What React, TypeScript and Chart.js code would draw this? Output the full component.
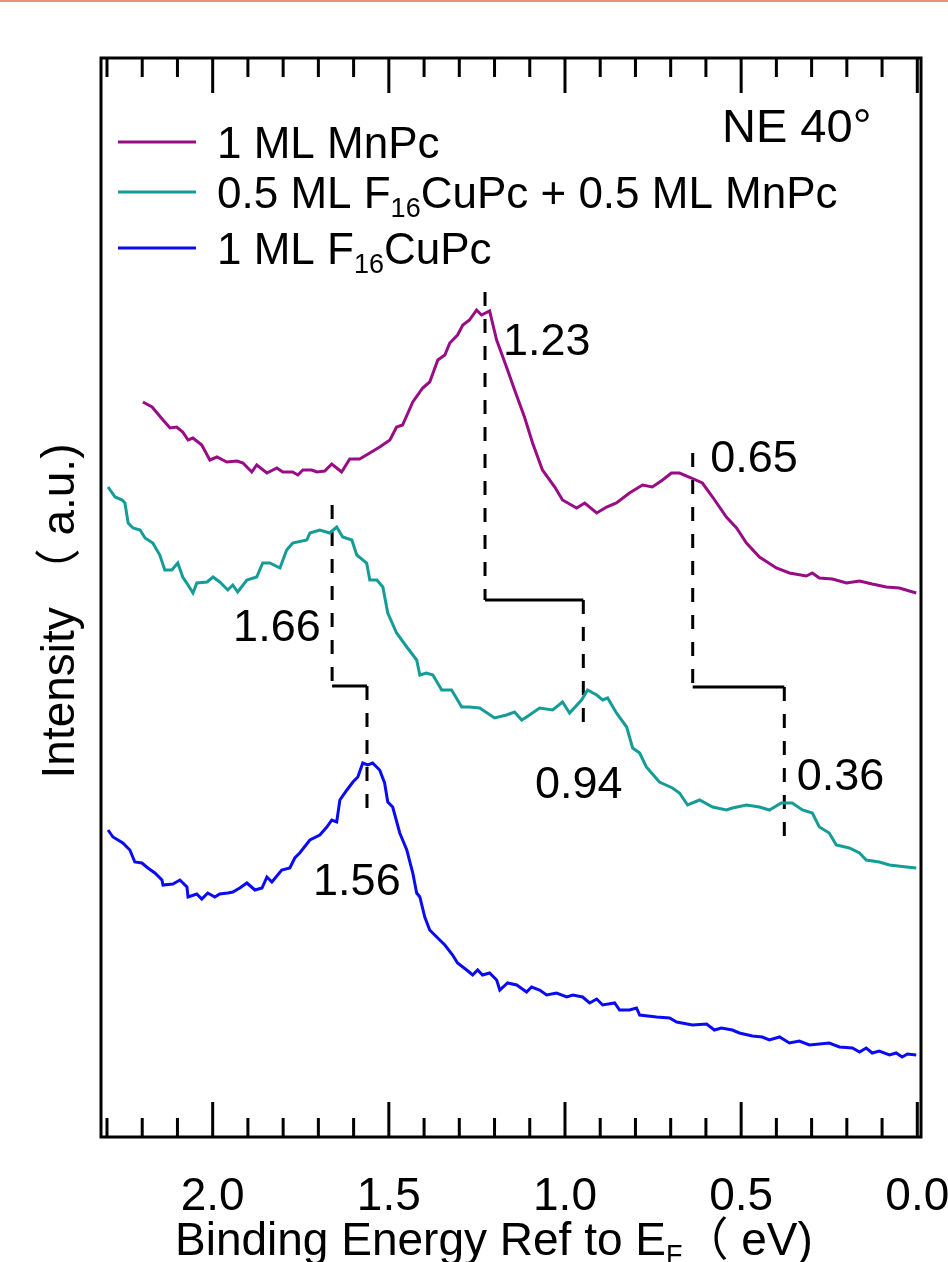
import React, { useEffect, useRef } from "react";
import { Chart, registerables } from "chart.js";

Chart.register(...registerables);

// ---------- data (binding energy in eV, intensity in arbitrary units) ----------
const mnpcEnergy = [2.198,2.172,2.141,2.121,2.102,2.085,2.070,2.056,2.031,2.008,1.988,1.960,1.931,1.914,1.889,1.875,1.846,1.818,1.801,1.773,1.758,1.744,1.719,1.704,1.682,1.662,1.634,1.611,1.583,1.554,1.526,1.497,1.478,1.461,1.432,1.404,1.384,1.361,1.341,1.327,1.305,1.290,1.271,1.251,1.237,1.214,1.194,1.166,1.143,1.115,1.092,1.064,1.029,1.007,0.967,0.944,0.910,0.882,0.854,0.817,0.780,0.752,0.723,0.698,0.675,0.641,0.610,0.581,0.542,0.513,0.485,0.448,0.400,0.363,0.315,0.298,0.278,0.241,0.201,0.164,0.128,0.088,0.051,0.003];
const mnpcIntensity = [735,730,717,709,710,705,697,699,692,677,680,675,676,674,665,672,664,669,665,665,662,667,667,665,666,673,665,678,678,684,690,697,710,712,735,749,755,777,782,794,802,812,817,827,822,826,797,770,747,720,694,667,650,637,629,634,624,630,634,644,652,650,657,664,664,659,654,640,620,609,594,580,569,564,561,564,559,558,554,556,553,550,549,544];

const mixEnergy = [2.297,2.277,2.257,2.249,2.240,2.226,2.206,2.192,2.170,2.150,2.136,2.116,2.099,2.085,2.070,2.056,2.045,2.016,1.999,1.980,1.957,1.943,1.929,1.903,1.875,1.858,1.838,1.809,1.790,1.773,1.733,1.724,1.696,1.668,1.648,1.631,1.605,1.591,1.563,1.554,1.534,1.517,1.503,1.478,1.449,1.421,1.412,1.393,1.375,1.350,1.322,1.293,1.271,1.242,1.200,1.166,1.143,1.123,1.109,1.072,1.035,1.007,0.987,0.953,0.936,0.910,0.893,0.879,0.854,0.825,0.808,0.788,0.769,0.732,0.695,0.675,0.652,0.618,0.581,0.542,0.525,0.485,0.448,0.420,0.386,0.355,0.326,0.298,0.278,0.250,0.230,0.193,0.164,0.145,0.108,0.079,0.031,0.003];
const mixIntensity = [650,640,637,634,614,609,607,599,594,582,567,567,574,560,552,544,554,555,560,555,547,552,545,557,560,574,574,569,587,594,597,604,607,604,610,600,597,582,574,557,557,550,524,504,490,477,462,464,462,447,447,430,430,429,419,422,425,417,420,429,427,435,424,437,447,442,437,439,424,410,389,384,370,355,349,344,332,337,330,327,329,332,330,327,334,334,327,324,310,304,292,289,284,277,275,272,270,269];

const f16Energy = [2.297,2.283,2.255,2.235,2.221,2.201,2.184,2.164,2.144,2.141,2.113,2.093,2.073,2.070,2.045,2.031,2.014,1.994,1.980,1.957,1.943,1.923,1.903,1.880,1.860,1.846,1.832,1.804,1.781,1.767,1.753,1.724,1.696,1.676,1.662,1.648,1.639,1.619,1.602,1.588,1.574,1.560,1.546,1.526,1.512,1.503,1.489,1.469,1.449,1.432,1.421,1.412,1.398,1.384,1.364,1.341,1.319,1.305,1.279,1.262,1.248,1.234,1.214,1.194,1.185,1.163,1.137,1.109,1.095,1.072,1.052,1.024,0.995,0.978,0.950,0.930,0.910,0.893,0.859,0.845,0.817,0.797,0.788,0.740,0.703,0.683,0.638,0.598,0.576,0.556,0.525,0.505,0.468,0.440,0.420,0.391,0.363,0.335,0.306,0.250,0.221,0.184,0.164,0.145,0.128,0.108,0.079,0.060,0.043,0.028,0.003];
const f16Intensity = [307,300,294,287,275,274,269,264,257,252,253,257,250,240,243,238,244,240,243,244,245,249,254,247,249,260,255,267,269,279,284,297,302,310,317,315,337,347,355,360,374,372,374,367,354,335,330,304,287,264,244,240,220,207,200,192,182,174,167,162,167,162,164,157,147,154,152,145,150,147,142,144,140,142,140,134,138,132,134,127,127,129,122,120,119,115,112,113,107,109,107,104,101,100,97,100,94,96,92,94,90,89,85,89,84,86,82,84,80,83,82];

// legend names: alternating normal text / subscript
const legendNames = [
  ["1 ML MnPc"],
  ["0.5 ML F", "16", "CuPc + 0.5 ML MnPc"],
  ["1 ML F", "16", "CuPc"],
];

// x-axis ticks
const minorTickValues = [2.3,2.2,2.1,2.0,1.9,1.8,1.7,1.6,1.5,1.4,1.3,1.2,1.1,1.0,0.9,0.8,0.7,0.6,0.5,0.4,0.3,0.2,0.1,0.0];
const majorTickValues = [2.0,1.5,1.0,0.5,0.0];
const majorTickLabels = ["2.0","1.5","1.0","0.5","0.0"];

// peak-shift brackets (energies / intensities where the guide lines run)
const bracketFrom = [1.227, 0.6375, 1.661];
const bracketTo = [0.948, 0.3775, 1.562];
const bracketTop = [845, 684, 632];
const bracketJoin = [537, 450, 451];
const bracketBottom = [402, 300, 327];

// peak labels
const peakLabels = ["1.23", "0.65", "1.66", "0.94", "0.36", "1.56"];
const peakLabelEnergy = [1.176, 0.588, 1.942, 1.085, 0.342, 1.715];
const peakLabelIntensity = [782, 665, 496, 339, 347, 242];

const FONT = '"Liberation Sans", Arial, "Noto Sans CJK JP", sans-serif';
const COLORS = ["#980C85", "#159C96", "#0A0AF5"];

const decorPlugin = {
  id: "decor",
  beforeDraw(chart: any) {
    const ctx = chart.ctx;
    ctx.save();
    ctx.fillStyle = "#ffffff";
    ctx.fillRect(0, 0, chart.width, chart.height);
    ctx.fillStyle = "#E8927C";
    ctx.fillRect(0, 0, chart.width, 2);
    ctx.restore();
  },
  afterDatasetsDraw(chart: any) {
    const { ctx, chartArea, scales } = chart;
    const xs = scales.x;
    const ys = scales.y;
    const { left, right, top, bottom } = chartArea;
    ctx.save();
    ctx.strokeStyle = "#000";
    ctx.fillStyle = "#000";
    ctx.lineWidth = 3;
    ctx.strokeRect(left, top, right - left, bottom - top);

    // ticks (inward, top and bottom)
    ctx.lineWidth = 3;
    minorTickValues.forEach((v) => {
      const px = xs.getPixelForValue(v);
      const major = majorTickValues.some((m) => Math.abs(m - v) < 1e-6);
      const len = major ? 35 : 19;
      ctx.beginPath();
      ctx.moveTo(px, bottom);
      ctx.lineTo(px, bottom - len);
      ctx.moveTo(px, top);
      ctx.lineTo(px, top + len);
      ctx.stroke();
    });

    // tick labels
    ctx.font = `46px ${FONT}`;
    ctx.textAlign = "center";
    ctx.textBaseline = "alphabetic";
    majorTickValues.forEach((v, i) => {
      ctx.fillText(majorTickLabels[i], xs.getPixelForValue(v), bottom + 73);
    });

    // x-axis title with subscript
    ctx.textAlign = "left";
    let cx = 175;
    const ty = bottom + 118;
    ctx.font = `46px ${FONT}`;
    const t1 = "Binding Energy Ref to E";
    ctx.fillText(t1, cx, ty);
    cx += ctx.measureText(t1).width;
    ctx.font = `27px ${FONT}`;
    ctx.fillText("F", cx, ty + 9);
    cx += ctx.measureText("F").width;
    ctx.font = `46px ${FONT}`;
    ctx.fillText("（ eV)", cx, ty);

    // y-axis title
    ctx.save();
    ctx.translate(74, 611);
    ctx.rotate(-Math.PI / 2);
    ctx.textAlign = "center";
    ctx.font = `46px ${FONT}`;
    ctx.fillText("Intensity （ a.u.)", 0, 0);
    ctx.restore();

    // peak labels
    ctx.font = `45px ${FONT}`;
    ctx.textAlign = "left";
    peakLabels.forEach((t, i) => {
      ctx.fillText(t, xs.getPixelForValue(peakLabelEnergy[i]), ys.getPixelForValue(peakLabelIntensity[i]));
    });

    // NE 40°
    ctx.font = `47px ${FONT}`;
    ctx.fillText("NE 40°", 722, 142);

    // legend
    const rowY = [142, 192, 248];
    legendNames.forEach((parts, i) => {
      const y = rowY[i];
      ctx.strokeStyle = COLORS[i];
      ctx.lineWidth = 3;
      ctx.beginPath();
      ctx.moveTo(118, y);
      ctx.lineTo(196, y);
      ctx.stroke();
      let x = 217;
      parts.forEach((p, j) => {
        const sub = j % 2 === 1;
        ctx.font = sub ? `27px ${FONT}` : `44px ${FONT}`;
        ctx.fillStyle = "#000";
        ctx.fillText(p, x, y + 16 + (sub ? 9 : 0));
        x += ctx.measureText(p).width;
      });
    });
    ctx.restore();
  },
};

export default function App() {
  const canvasRef = useRef<HTMLCanvasElement | null>(null);

  useEffect(() => {
    const canvas = canvasRef.current;
    if (!canvas) return;

    const series = [
      { label: "1 ML MnPc", e: mnpcEnergy, v: mnpcIntensity },
      { label: "0.5 ML F16CuPc + 0.5 ML MnPc", e: mixEnergy, v: mixIntensity },
      { label: "1 ML F16CuPc", e: f16Energy, v: f16Intensity },
    ];

    const datasets: any[] = series.map((s, i) => {
      const n = Math.min(s.e.length, s.v.length);
      const data = [];
      for (let k = 0; k < n; k++) data.push({ x: s.e[k], y: s.v[k] });
      return {
        label: s.label,
        data,
        borderColor: COLORS[i],
        borderWidth: 3,
        pointRadius: 0,
        tension: 0,
        fill: false,
      };
    });

    bracketFrom.forEach((e1, i) => {
      const e2 = bracketTo[i];
      const common = { borderColor: "#000", borderWidth: 3, pointRadius: 0, tension: 0, fill: false };
      datasets.push({
        ...common,
        label: "guide",
        borderDash: [14, 13],
        data: [{ x: e1, y: bracketTop[i] }, { x: e1, y: bracketJoin[i] }],
      });
      datasets.push({
        ...common,
        label: "guide",
        data: [{ x: e1, y: bracketJoin[i] }, { x: e2, y: bracketJoin[i] }],
      });
      datasets.push({
        ...common,
        label: "guide",
        borderDash: [14, 13],
        data: [{ x: e2, y: bracketJoin[i] }, { x: e2, y: bracketBottom[i] }],
      });
    });

    const chart = new Chart(canvas, {
      type: "line",
      data: { datasets },
      options: {
        responsive: false,
        animation: false,
        devicePixelRatio: 1,
        events: [],
        layout: { padding: { left: 101, top: 58, right: 27, bottom: 125 } },
        plugins: { legend: { display: false }, tooltip: { enabled: false } },
        scales: {
          x: { type: "linear", min: -0.0105, max: 2.317, reverse: true, display: false },
          y: { type: "linear", min: 0, max: 1079, display: false },
        },
      },
      plugins: [decorPlugin],
    } as any);

    return () => chart.destroy();
  }, []);

  return (
    <div style={{ position: "absolute", left: 0, top: 0, width: 948, height: 1262, overflow: "hidden" }}>
      <canvas ref={canvasRef} width={948} height={1262} style={{ display: "block", width: 948, height: 1262 }} />
    </div>
  );
}
